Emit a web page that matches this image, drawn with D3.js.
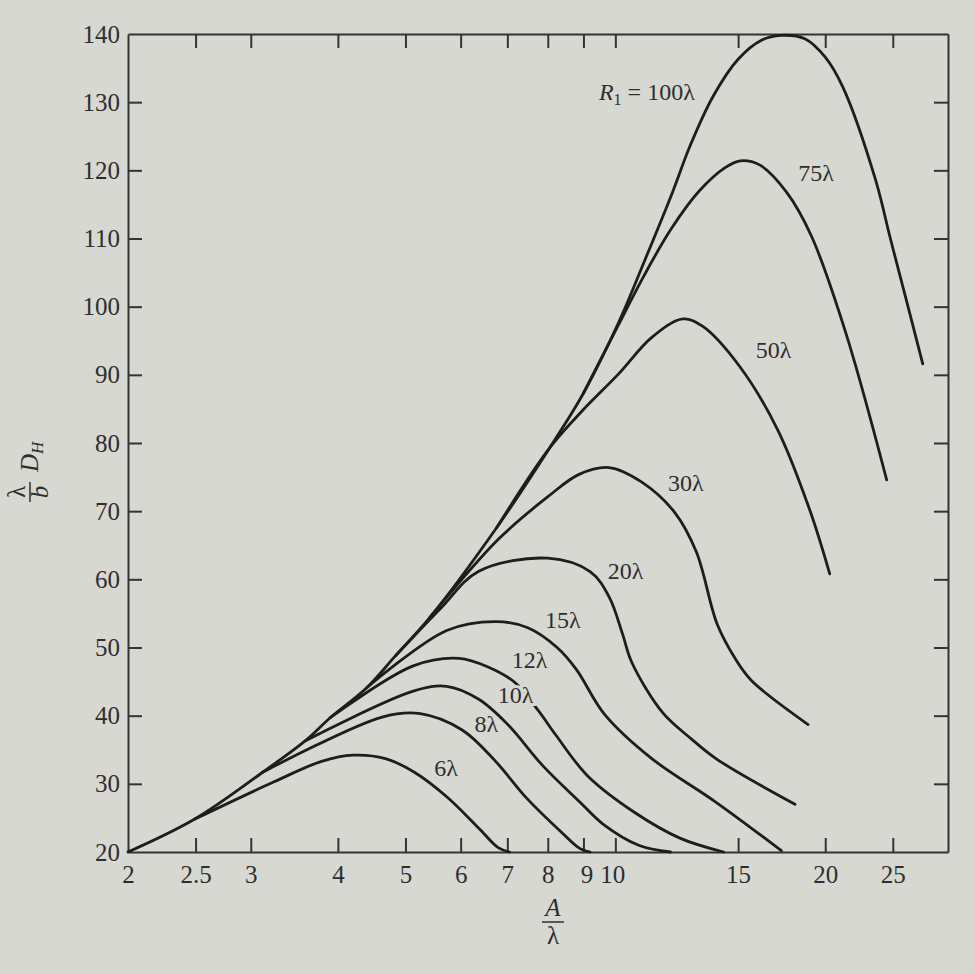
<!DOCTYPE html>
<html>
<head>
<meta charset="utf-8">
<script src="https://cdn.jsdelivr.net/npm/d3@7"></script>
<style>
body { margin: 0; background: #d8d8d2; }
text { font-family: "Liberation Serif", "DejaVu Serif", serif; fill: #2e2e2e; }
</style>
</head>
<body>
<div id="chart"></div>
<script>
// axis ticks
var xTicks = [2, 2.5, 3, 4, 5, 6, 7, 8, 9, 10, 15, 20, 25]
var yTicks = [20, 30, 40, 50, 60, 70, 80, 90, 100, 110, 120, 130, 140]

// curves, [A/lambda, lambda*D_H/b]
var r6 = [[2.49, 24.8], [3.24, 30.3], [3.79, 33.3], [4.21, 34.2], [4.68, 33.7], [5.15, 31.7], [5.73, 28.1], [6.37, 23.5], [6.8, 20.6], [7.05, 20]]
var r8 = [[3.12, 31.7], [4.63, 39.8], [5.25, 40.3], [6.03, 37.9], [6.72, 33.4], [7.46, 27.9], [8.37, 22.9], [8.9, 20.5], [9.2, 20]]
var r10 = [[3.59, 36.3], [5.13, 43.6], [5.73, 44.3], [6.37, 42.4], [7.01, 38.7], [7.88, 32.6], [8.9, 27.3], [9.6, 24.1], [10.8, 21.0], [12.0, 20]]
var r12 = [[3.9, 39.7], [5.13, 47.3], [5.97, 48.4], [6.58, 47.1], [7.17, 44.9], [7.76, 40.7], [8.21, 37.2], [9.12, 31.2], [10.66, 25.8], [12.4, 22.0], [14.3, 20]]
var r15 = [[4.4, 44.1], [5.73, 52.5], [6.75, 53.8], [7.49, 52.9], [8.25, 50.0], [8.79, 46.8], [9.65, 40.2], [11.28, 33.7], [13.9, 27.4], [17.3, 20.2]]
var r20 = [[4.84, 48.8], [5.6, 55.6], [6.37, 61.2], [8.0, 63.1], [9.21, 61.1], [9.8, 57.4], [10.24, 52.0], [10.56, 47.8], [11.7, 40.4], [12.85, 36.6], [13.99, 33.6], [18.1, 27.0]]
var r30 = [[5.42, 54.4], [6.8, 65.9], [8.02, 72.2], [8.87, 75.4], [9.79, 76.4], [10.9, 74.3], [12.17, 69.8], [13.07, 64.0], [14.0, 53.4], [14.87, 48.3], [15.66, 45.2], [18.9, 38.7]]
var r50 = [[6.76, 67.6], [8.04, 79.2], [8.98, 84.8], [10.1, 90.1], [11.28, 95.5], [12.5, 98.2], [13.35, 97.1], [15.06, 91.3], [17.1, 81.9], [19.0, 70.2], [20.3, 60.8]]
var r75 = [[9.0, 87.3], [10.1, 97.3], [11.0, 104.6], [12.04, 111.5], [13.2, 117.0], [14.37, 120.4], [15.1, 121.4], [16.1, 120.8], [17.6, 116.8], [19.1, 110.4], [21.4, 96.2], [24.5, 74.6]]
var r100 = [[2, 20], [2.49, 24.8], [3.12, 31.7], [3.59, 36.3], [3.9, 39.7], [4.4, 44.1], [4.84, 48.8], [5.42, 54.4], [6.76, 67.6], [8.04, 79.2], [9.0, 87.3], [10.1, 97.6], [11.0, 106.6], [12.08, 116.8], [12.8, 123.6], [13.8, 130.8], [15.0, 136.3], [16.2, 139.1], [17.3, 139.8], [18.7, 139.3], [20.0, 136.6], [21.2, 132.2], [23.6, 118.7], [24.8, 110.0], [26.0, 101.9], [27.6, 91.6]]

var curveNames = ["6λ", "8λ", "10λ", "12λ", "15λ", "20λ", "30λ", "50λ", "75λ", "100λ"]
var curveData = [r6, r8, r10, r12, r15, r20, r30, r50, r75, r100]
// where each label sits (baseline), same units as the data
var labelAt = [[5.5, 31.2], [6.28, 37.6], [6.78, 41.8], [7.1, 47.0], [7.93, 52.9], [9.75, 60.0], [11.9, 73.0], [15.9, 92.5], [18.3, 118.5], [13.0, 130.3]]

var width = 975, height = 974
var margin = {left: 128, right: 27, top: 34, bottom: 122}
var bg = "#d8d8d2"

var svg = d3.select("#chart").append("svg")
    .attr("width", width)
    .attr("height", height)

svg.append("rect").attr("width", width).attr("height", height).attr("fill", bg)

var x = d3.scaleLog()
    .domain([2, 30])
    .range([margin.left, width - margin.right])

var y = d3.scaleLinear()
    .domain([20, 140])
    .range([height - margin.bottom, margin.top])

var tickLen = 14

function styleAxis(g) {
    g.selectAll("path.domain").attr("stroke", "#333").attr("stroke-width", 2)
    g.selectAll(".tick line").attr("stroke", "#333").attr("stroke-width", 2)
    g.selectAll(".tick text")
        .style("font-family", '"Liberation Serif", serif')
        .style("font-size", "25px")
        .attr("fill", "#333")
}

var xAxisBottom = svg.append("g")
    .attr("transform", "translate(0," + y(20) + ")")
    .call(d3.axisBottom(x).tickValues(xTicks).tickSize(-tickLen).tickSizeOuter(0).tickPadding(10)
        .tickFormat(function (d) { return d }))
xAxisBottom.call(styleAxis)
xAxisBottom.selectAll(".tick text").attr("dy", "0.85em")
xAxisBottom.selectAll(".tick").filter(function (d) { return d === 2 }).select("line").remove()
// 9 and 10 sit close together in the original
xAxisBottom.selectAll(".tick text").filter(function (d) { return d === 9 }).attr("dx", "3")
xAxisBottom.selectAll(".tick text").filter(function (d) { return d === 10 }).attr("dx", "-3")

var xAxisTop = svg.append("g")
    .attr("transform", "translate(0," + y(140) + ")")
    .call(d3.axisTop(x).tickValues(xTicks.slice(1)).tickSize(-tickLen).tickSizeOuter(0).tickFormat(""))
xAxisTop.call(styleAxis)

var yAxisLeft = svg.append("g")
    .attr("transform", "translate(" + x(2) + ",0)")
    .call(d3.axisLeft(y).tickValues(yTicks).tickSize(-tickLen).tickSizeOuter(0).tickPadding(8))
yAxisLeft.call(styleAxis)
yAxisLeft.selectAll(".tick").filter(function (d) { return d === 20 || d === 140 }).select("line").remove()

var yAxisRight = svg.append("g")
    .attr("transform", "translate(" + x(30) + ",0)")
    .call(d3.axisRight(y).tickValues(yTicks.slice(1, -1)).tickSize(-tickLen).tickSizeOuter(0).tickFormat(""))
yAxisRight.call(styleAxis)

var line = d3.line()
    .x(function (d) { return x(d[0]) })
    .y(function (d) { return y(d[1]) })
    .curve(d3.curveCatmullRom.alpha(0.5))

svg.append("g")
    .selectAll("path")
    .data(curveData)
    .enter()
    .append("path")
    .attr("d", line)
    .attr("fill", "none")
    .attr("stroke", "#1d1d1d")
    .attr("stroke-width", 2.8)
    .attr("stroke-linecap", "round")

// curve labels, with a paper coloured halo so they break a curve like in the book
var labels = svg.append("g")
curveNames.forEach(function (name, i) {
    var p = labelAt[i]
    var t = labels.append("text")
        .attr("x", x(p[0]))
        .attr("y", y(p[1]))
        .style("font-size", "24px")
        .attr("stroke", bg)
        .attr("stroke-width", 6)
        .attr("paint-order", "stroke")
    if (name === "100λ") {
        t.attr("text-anchor", "end")
        t.append("tspan").style("font-style", "italic").text("R")
        t.append("tspan").attr("dy", 5).style("font-size", "16px").text("1")
        t.append("tspan").attr("dy", -5).text(" = 100λ")
    } else {
        t.text(name)
    }
})

// y title: lambda over b, then D_H, turned on its side
var yt = svg.append("g").attr("transform", "translate(30,462) rotate(-90)")
yt.append("text").attr("x", -30).attr("y", -5).attr("text-anchor", "middle").style("font-size", "25px").text("λ")
yt.append("line").attr("x1", -40).attr("x2", -20).attr("y1", 0).attr("y2", 0).attr("stroke", "#2e2e2e").attr("stroke-width", 1.5)
yt.append("text").attr("x", -30).attr("y", 18).attr("text-anchor", "middle").style("font-size", "25px").style("font-style", "italic").text("b")
var dh = yt.append("text").attr("x", -10).attr("y", 8).style("font-size", "25px").style("font-style", "italic")
dh.append("tspan").text("D")
dh.append("tspan").attr("dy", 5).style("font-size", "17px").text("H")

// x title: A over lambda
var xt = svg.append("g").attr("transform", "translate(553,922)")
xt.append("text").attr("x", 0).attr("y", -6).attr("text-anchor", "middle").style("font-size", "25px").style("font-style", "italic").text("A")
xt.append("line").attr("x1", -11).attr("x2", 11).attr("y1", 0).attr("y2", 0).attr("stroke", "#2e2e2e").attr("stroke-width", 1.5)
xt.append("text").attr("x", 0).attr("y", 22).attr("text-anchor", "middle").style("font-size", "25px").text("λ")
</script>
</body>
</html>
